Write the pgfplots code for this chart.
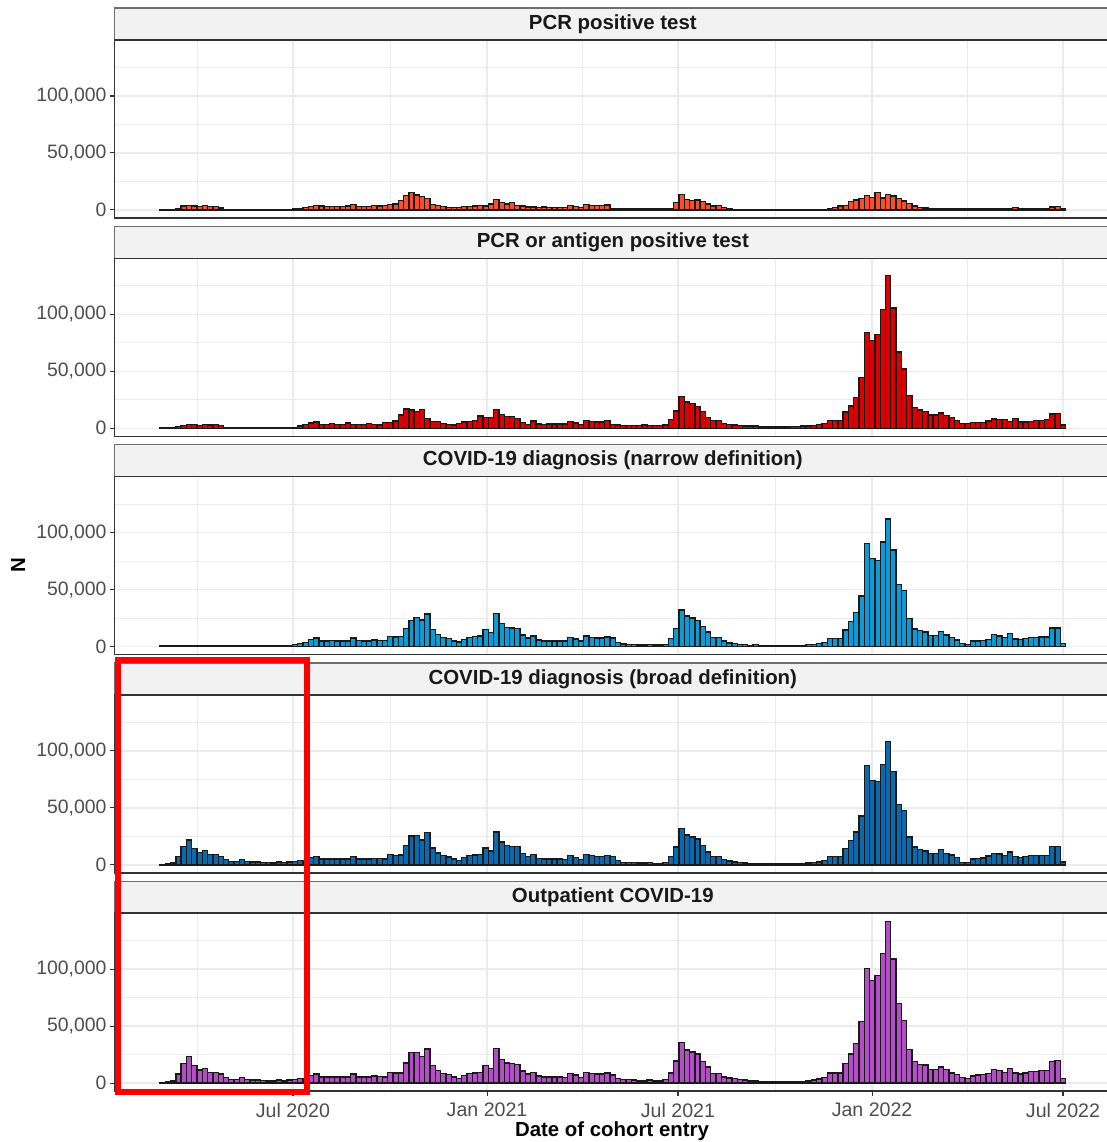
\documentclass[border=0pt]{standalone}
\usepackage{fontspec}
\setmainfont{Liberation Sans}
\usepackage{pgfplots}
\usepackage{pgfplotstable}
\pgfplotsset{compat=1.18}
\definecolor{cA}{HTML}{F94F2C}
\definecolor{cB}{HTML}{DD0000}
\definecolor{cC}{HTML}{0E9AD5}
\definecolor{cD}{HTML}{0B6AAE}
\definecolor{cE}{HTML}{B34FC4}
\definecolor{c20}{HTML}{333333}
\definecolor{c30}{HTML}{4D4D4D}
\definecolor{c50}{HTML}{6E6E6E}
\definecolor{gridc}{HTML}{EBEBEB}
\definecolor{stripc}{HTML}{F2F2F2}

% PCR positive test
\pgfplotstableread[row sep=\\]{y\\
300\\300\\600\\1500\\3500\\4100\\3500\\3200\\3800\\3200\\3200\\1800\\
400\\400\\400\\400\\400\\400\\400\\400\\400\\400\\400\\400\\400\\
800\\1500\\2300\\3200\\3800\\3500\\2900\\3200\\3200\\3200\\
3500\\4700\\3200\\3200\\3200\\3800\\3500\\3800\\5000\\5300\\
8200\\12600\\15500\\13100\\11700\\10200\\5000\\3800\\2900\\2300\\
2300\\2300\\2900\\2900\\3500\\4100\\3500\\5300\\9400\\6700\\
5300\\6400\\3800\\3500\\2600\\2600\\2300\\2600\\2300\\2000\\
2300\\2300\\4100\\2900\\2300\\4700\\4100\\3800\\3800\\4400\\
1500\\1200\\
900\\900\\900\\900\\900\\900\\900\\900\\900\\
1500\\6400\\13400\\9400\\8500\\8800\\7300\\5300\\3500\\3800\\2000\\1200\\
600\\600\\600\\600\\600\\600\\600\\600\\600\\600\\600\\600\\600\\600\\600\\600\\600\\600\\
1500\\2300\\3500\\4100\\7300\\8800\\10200\\12600\\11100\\15200\\
10500\\13700\\12300\\10200\\7900\\5800\\3500\\2300\\1800\\1500\\
1200\\1200\\1200\\1200\\1200\\1200\\
1500\\
1200\\1200\\1200\\1200\\1200\\1200\\1200\\1200\\
2000\\
1200\\1200\\1200\\1200\\1200\\
1500\\2600\\3200\\1200\\
}\tabA

% PCR or antigen positive test
\pgfplotstableread[row sep=\\]{y\\
200\\200\\300\\1500\\2300\\3500\\3500\\2300\\3500\\2900\\3500\\2300\\900\\
300\\300\\300\\300\\300\\300\\300\\300\\300\\300\\300\\
500\\900\\2000\\3500\\4700\\5300\\3500\\3500\\4100\\3500\\
3500\\4700\\3200\\3200\\3200\\4100\\3500\\2900\\5000\\5000\\
6400\\11700\\16900\\16000\\14600\\16600\\8800\\6100\\6100\\4400\\
3500\\2900\\4400\\5500\\5800\\6700\\10800\\9600\\9600\\16600\\
12300\\10200\\10500\\8500\\5000\\3500\\6400\\3800\\3500\\3800\\
3800\\3800\\3800\\6100\\4700\\3200\\6700\\5800\\5300\\5300\\
6700\\3500\\
2900\\2600\\2300\\2300\\2300\\2900\\2300\\2300\\2300\\2900\\
7600\\15200\\28000\\23000\\21600\\19300\\14600\\9300\\6700\\6700\\
4400\\3500\\2900\\2300\\2000\\1800\\2000\\
1200\\1200\\1200\\1200\\1200\\1200\\
1500\\1500\\1800\\2000\\2600\\3200\\4100\\7000\\7000\\7000\\
14300\\19600\\26900\\44700\\84100\\77100\\82300\\104000\\134000\\105400\\
66900\\52000\\28600\\18400\\16100\\14600\\11700\\11700\\13400\\11400\\
9300\\7000\\4100\\4100\\5000\\5000\\5000\\6400\\8200\\7600\\
7600\\5800\\8500\\5500\\5500\\6100\\6700\\6700\\7600\\12600\\
13100\\2900\\
}\tabB

% COVID-19 diagnosis (narrow definition)
\pgfplotstableread[row sep=\\]{y\\
300\\300\\300\\300\\300\\300\\300\\300\\300\\300\\300\\300\\
300\\300\\300\\300\\300\\300\\300\\300\\300\\300\\300\\300\\
500\\1500\\2500\\3500\\
6400\\7500\\5000\\5000\\5200\\5000\\5000\\5000\\7500\\5200\\
5000\\5000\\5800\\5500\\5200\\8800\\8400\\8600\\16000\\22800\\
25700\\23400\\28600\\14700\\10300\\8100\\6900\\5000\\3900\\6400\\
8100\\8600\\9100\\14700\\12200\\28900\\20000\\16900\\16300\\15800\\
10000\\7500\\9100\\5800\\5000\\5000\\5000\\5000\\4800\\8100\\
6700\\4800\\9100\\8100\\7500\\7500\\8400\\
7600\\3500\\2300\\2000\\1800\\1200\\1200\\1800\\1200\\1200\\
1800\\7000\\15800\\32200\\26700\\24900\\23100\\17300\\12600\\7900\\
7900\\4700\\3200\\2600\\2000\\1500\\900\\1500\\
600\\600\\600\\600\\600\\600\\600\\600\\
900\\1500\\2000\\2600\\3500\\7300\\7300\\7300\\14600\\21700\\
29600\\44200\\90500\\77100\\75300\\91700\\111900\\84700\\54500\\49200\\
24600\\15500\\13800\\12600\\9400\\9400\\12900\\10000\\7900\\5600\\
2600\\1500\\5000\\5000\\5300\\6400\\10300\\9100\\7900\\11400\\
6700\\6200\\7300\\7900\\7900\\8500\\8500\\16100\\16400\\2600\\
}\tabC

% COVID-19 diagnosis (broad definition)
\pgfplotstableread[row sep=\\]{y\\
500\\900\\1700\\7500\\16300\\21900\\14400\\10800\\12400\\9100\\
8800\\7500\\4500\\3000\\3000\\4500\\3000\\2500\\2500\\2200\\
1900\\1700\\2500\\1900\\2500\\3000\\3600\\3600\\6400\\7500\\
5000\\5000\\5200\\5000\\5000\\5000\\7500\\5200\\5000\\5000\\
5800\\5500\\5200\\8800\\8400\\8600\\16900\\25300\\25600\\21900\\
28300\\14700\\10300\\8100\\6900\\5000\\3900\\6400\\8100\\8600\\
9100\\14700\\12200\\28900\\20000\\16900\\16300\\15800\\10000\\7500\\
9100\\5800\\5000\\5000\\5000\\5000\\4800\\8100\\6700\\4800\\
9100\\8100\\7500\\7500\\8400\\
7300\\3800\\2300\\2000\\1800\\1500\\1500\\1800\\1200\\1200\\
2000\\7300\\15500\\31600\\26100\\24300\\22600\\17000\\11400\\7300\\
7300\\4400\\3200\\2600\\2000\\1500\\900\\900\\600\\600\\
600\\600\\600\\600\\600\\600\\900\\1500\\2000\\2600\\
3800\\7300\\7300\\7300\\14300\\21300\\28900\\43000\\87200\\74000\\
72900\\88100\\108000\\82000\\53000\\47700\\24300\\15500\\13500\\12000\\
10200\\10200\\13500\\10200\\8500\\6700\\2300\\2000\\5000\\5300\\
5900\\7600\\10200\\9400\\8200\\11100\\7300\\6400\\7300\\8200\\
8200\\8200\\8200\\15800\\16100\\2600\\
}\tabD

% Outpatient COVID-19
\pgfplotstableread[row sep=\\]{y\\
600\\900\\1800\\7900\\17200\\23100\\15200\\11400\\13100\\9600\\
9300\\7900\\4700\\3200\\3200\\4700\\3200\\2600\\2600\\2300\\
2000\\1800\\2600\\2000\\2600\\3200\\3800\\3800\\6700\\7900\\
5300\\5300\\5500\\5300\\5300\\5300\\7900\\5500\\5300\\5300\\
6100\\5800\\5500\\9300\\8800\\9000\\17800\\26600\\26900\\23100\\
29800\\15500\\10800\\8500\\7300\\5300\\4100\\6700\\8500\\9000\\
9600\\15500\\12800\\30400\\21000\\17800\\17200\\16600\\10500\\7900\\
9600\\6100\\5300\\5300\\5300\\5300\\5000\\8500\\7000\\5000\\
9600\\8500\\7900\\7900\\8800\\7000\\
4100\\3200\\2900\\2600\\2000\\2000\\2600\\2000\\2000\\3200\\
9000\\19300\\35900\\29200\\27400\\25400\\18700\\14000\\8500\\8500\\
5500\\4400\\4100\\3200\\2600\\2000\\2000\\1500\\1200\\1200\\
1200\\1200\\1200\\1200\\1200\\1500\\2000\\2600\\3500\\4700\\
8800\\8800\\8800\\17500\\25400\\34700\\54000\\100400\\90200\\94600\\
113600\\141900\\108900\\69800\\55200\\29500\\18700\\16600\\15800\\12000\\
12000\\14300\\12000\\9000\\7600\\4700\\4100\\6400\\7000\\7300\\
8500\\12000\\11100\\9300\\12800\\8800\\7900\\9000\\10200\\10200\\
10800\\10800\\19000\\19900\\4100\\
}\tabE

\pgfplotsset{
  panel/.style={
    scale only axis, width=498.05pt, height=89pt,
    anchor=north west,
    xmin=13.0, xmax=957.3, ymin=-7100, ymax=149100,
    axis line style={draw=c20, line width=0.75pt},
    ytick={0,50000,100000}, minor ytick={25000,75000,125000},
    xtick={182,366,547,731,912}, minor xtick={91,274,456,639,821},
    grid=both,
    major grid style={draw=gridc, line width=0.7pt},
    minor grid style={draw=gridc, line width=0.35pt},
    tick align=outside, tick pos=left,
    major tick length=2.4pt, minor tick length=0pt,
    tick style={draw=c20, line width=0.55pt},
    scaled y ticks=false,
    /pgf/number format/assume math mode=true,
    yticklabel style={font=\fontsize{9.7}{10}\selectfont, text=c30, inner sep=1.5pt,
      /pgf/number format/fixed, /pgf/number format/1000 sep={,}},
    xticklabel style={font=\fontsize{9.8}{10}\selectfont, text=c30},
    xticklabels={}, xtick style={draw=none},
  },
  bars/.style={ybar, bar width=5.0205, bar shift=0pt, draw=black!90, line width=0.68pt, fill=#1},
}

\begin{document}
\begin{tikzpicture}
\useasboundingbox (0,0) rectangle (553.5pt,-571pt);

% strips
\foreach \t/\lab in {4/{PCR positive test},113.15/{PCR or antigen positive test},222.3/{COVID-19 diagnosis (narrow definition)},331.45/{COVID-19 diagnosis (broad definition)},440.6/{Outpatient COVID-19}}{
  \filldraw[fill=stripc, draw=c50, line width=0.6pt] (57.35pt,-\t pt) rectangle (555.4pt,-\t pt-16pt);
  \node[font=\bfseries\fontsize{10.2}{12}\selectfont, text=black!90] at (306.4pt,-\t pt-8pt) {\lab};
}

\begin{axis}[panel, at={(57.35pt,-20pt)}]
\addplot[bars=cA] table[x expr={58.41+5.0205*\coordindex}, y=y] {\tabA};
\end{axis}

\begin{axis}[panel, at={(57.35pt,-129.15pt)}]
\addplot[bars=cB] table[x expr={58.41+5.0205*\coordindex}, y=y] {\tabB};
\end{axis}

\begin{axis}[panel, at={(57.35pt,-238.3pt)}]
\addplot[bars=cC] table[x expr={58.41+5.0205*\coordindex}, y=y] {\tabC};
\end{axis}

\begin{axis}[panel, at={(57.35pt,-347.45pt)}]
\addplot[bars=cD] table[x expr={58.41+5.0205*\coordindex}, y=y] {\tabD};
\end{axis}

\begin{axis}[panel, at={(57.35pt,-456.6pt)},
  xticklabels={Jul 2020,Jan 2021,Jul 2021,Jan 2022,Jul 2022},
  xtick style={draw=c20, line width=0.55pt}]
\addplot[bars=cE] table[x expr={58.41+5.0205*\coordindex}, y=y] {\tabE};
\end{axis}

\node[font=\bfseries\fontsize{10.2}{12}\selectfont, rotate=90] at (9pt,-282.5pt) {N};
\node[font=\bfseries\fontsize{10.2}{12}\selectfont] at (306pt,-565.5pt) {Date of cohort entry};

\draw[red, line width=2.6pt] (59pt,-330pt) rectangle (153.5pt,-546pt);
\end{tikzpicture}
\end{document}
